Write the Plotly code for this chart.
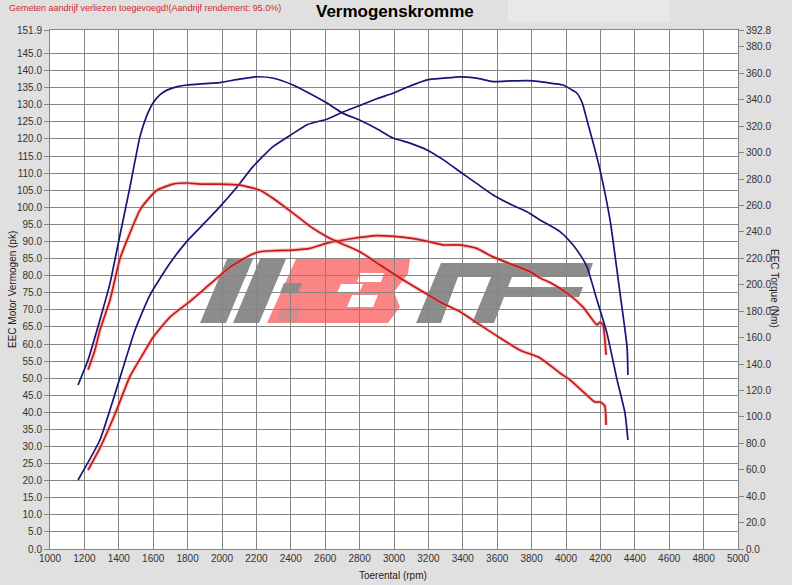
import plotly.graph_objects as go

# ---------------- data ----------------
rpm_power_blue = [1163, 1290, 1400, 1494, 1581, 1698, 1802, 1900, 1988, 2080, 2180, 2290, 2395, 2500,
                  2610, 2700, 2802, 2900, 2994, 3093, 3192, 3290, 3384, 3480, 3576, 3680, 3773, 3849,
                  3930, 3983, 4030, 4064, 4095, 4122, 4160, 4198, 4256, 4314, 4355, 4360]
power_blue = [20.2, 31.9, 49.0, 64.0, 74.3, 83.7, 90.4, 95.5, 100.2, 105.5, 111.9, 117.5, 121.0, 124.3,
              125.8, 127.8, 129.8, 131.8, 133.4, 135.5, 137.3, 137.8, 138.2, 137.8, 136.8, 137.0, 137.1, 136.8,
              136.2, 135.8, 134.5, 133.4, 130.5, 125.5, 118.5, 110.9, 96.3, 74.9, 59.1, 50.9]

rpm_torque_blue = [1163, 1221, 1290, 1349, 1395, 1465, 1523, 1560, 1599, 1640, 1680, 1740, 1796, 1900,
                   1988, 2100, 2203, 2300, 2413, 2510, 2610, 2704, 2802, 2900, 2994, 3093, 3192, 3290,
                   3384, 3480, 3576, 3680, 3773, 3849, 3965, 4041, 4090, 4122, 4180, 4238, 4297, 4343, 4360]
torque_blue = [124.1, 143.0, 173.3, 201.2, 230.1, 274.1, 312.1, 327.1, 337.5, 343.9, 347.3, 349.9, 351.2, 352.2,
               353.0, 355.6, 357.4, 356.3, 351.2, 344.7, 337.5, 329.7, 324.5, 318.1, 311.1, 307.2, 302.0, 294.3,
               285.5, 276.7, 267.9, 260.7, 255.2, 249.0, 240.2, 230.1, 221.1, 213.6, 188.5, 163.4, 128.0, 102.9, 82.5]

rpm_power_red = [1221, 1290, 1378, 1465, 1540, 1600, 1700, 1814, 1930, 2047, 2163, 2221, 2300, 2413,
                 2512, 2610, 2750, 2901, 3000, 3093, 3200, 3285, 3384, 3480, 3576, 3674, 3791, 3849,
                 3907, 4006, 4099, 4180, 4198, 4215, 4233]
power_red = [23.1, 29.5, 39.5, 50.5, 57.0, 62.0, 68.0, 72.5, 77.5, 82.5, 86.0, 87.0, 87.3, 87.5,
             88.0, 89.5, 90.8, 91.7, 91.5, 91.0, 90.0, 89.0, 89.0, 88.0, 85.5, 83.5, 81.2, 79.3,
             78.0, 74.9, 70.8, 65.6, 66.4, 65.6, 56.8]

rpm_torque_red = [1221, 1260, 1290, 1349, 1407, 1448, 1523, 1581, 1622, 1715, 1800, 1872, 1988, 2105,
                  2221, 2300, 2413, 2510, 2610, 2700, 2802, 2919, 3035, 3151, 3267, 3384, 3500, 3616,
                  3733, 3849, 3965, 4023, 4100, 4168, 4198, 4215, 4227, 4233]
torque_red = [135.5, 150.0, 165.5, 188.5, 219.8, 233.8, 256.5, 266.3, 271.5, 276.2, 277.0, 276.2, 276.2, 275.4,
              271.5, 265.1, 254.2, 244.4, 236.4, 230.9, 225.0, 214.9, 205.1, 196.0, 187.0, 179.5, 169.6, 159.8,
              150.5, 144.6, 133.2, 128.0, 119.0, 111.2, 111.2, 109.9, 107.6, 93.9]

x_ticks = list(range(1000, 5001, 200))
y_left_ticks = [i * 5.0 for i in range(30)] + [151.9]
y_right_ticks = [i * 20.0 for i in range(20)] + [392.8]

# ---------------- figure ----------------
W, H = 792, 585
L, R, T, B = 50, 54, 30, 36
pw, ph = W - L - R, H - T - B

BLUE = "#15157a"
RED = "#c41818"
HALO = "rgba(240,120,120,0.4)"

fig = go.Figure()

def add_line(x, y, color, axis, halo=False):
    if halo:
        fig.add_trace(go.Scatter(x=x, y=y, mode="lines", yaxis=axis, hoverinfo="skip",
                                 line=dict(color=HALO, width=4, shape="spline", smoothing=0.5)))
    fig.add_trace(go.Scatter(x=x, y=y, mode="lines", yaxis=axis,
                             line=dict(color=color, width=1.7, shape="spline", smoothing=0.5)))

add_line(rpm_power_red, power_red, RED, "y", halo=True)
add_line(rpm_torque_red, torque_red, RED, "y2", halo=True)
add_line(rpm_power_blue, power_blue, BLUE, "y")
add_line(rpm_torque_blue, torque_blue, BLUE, "y2")

# ---- watermark logo (decoration, in pixel -> paper coords) ----
def P(px, py):
    return ((px - L) / pw, (H - B - py) / ph)

def path(points):
    s = ""
    for i, (px, py) in enumerate(points):
        x, y = P(px, py)
        s += ("M" if i == 0 else "L") + f"{x:.4f},{y:.4f} "
    return s + "Z"

GRAY = "#8c8c8c"
PINK = "#fb8585"
logo = [
    ([(200, 323), (226, 323), (253, 259), (227, 259)], GRAY),
    ([(233, 323), (259, 323), (286, 259), (260, 259)], GRAY),
    ([(267, 323), (388, 323), (400, 307), (394, 292), (408, 274), (410, 259), (296, 259)], PINK),
    ([(357, 282), (381, 282), (384, 273), (360, 273)], "white"),
    ([(347, 307), (373, 307), (378, 295), (352, 295)], "white"),
    ([(337, 293), (359, 293), (363, 284), (341, 284)], "white"),
    ([(280, 293), (298, 293), (302, 283), (284, 283)], GRAY),
    ([(276, 322), (296, 322), (302, 307), (282, 307)], "#d98a8a"),
    ([(441, 263), (512, 263), (507, 277), (458, 277), (441, 323), (416, 323)], GRAY),
    ([(497, 263), (593, 263), (588, 277), (512, 277), (508, 287), (583, 287), (579, 297),
      (504, 297), (494, 323), (472, 323)], GRAY),
]
shapes = []
for pts, col in logo:
    shapes.append(dict(type="path", xref="paper", yref="paper", path=path(pts),
                       fillcolor=col, line=dict(width=0), layer="below"))

# light box at top right of header
shapes.append(dict(type="rect", xref="paper", yref="paper",
                   x0=(508 - L) / pw, x1=(670 - L) / pw, y0=(H - B - 22) / ph, y1=(H - B) / ph + 0.06,
                   fillcolor="#e9e7ea", line=dict(width=0), layer="below"))

FONT = "Liberation Sans, Arial, sans-serif"
tick_font = dict(family=FONT, size=10, color="#333333")

fig.update_layout(
    width=W, height=H,
    margin=dict(l=L, r=R, t=T, b=B, pad=0, autoexpand=False),
    paper_bgcolor="#e0e0e0",
    plot_bgcolor="white",
    showlegend=False,
    shapes=shapes,
    xaxis=dict(range=[1000, 5000], tickvals=x_ticks, ticktext=[str(v) for v in x_ticks],
               showgrid=True, gridcolor="#858585", gridwidth=1, zeroline=False,
               ticks="", tickfont=tick_font, showline=True, linecolor="#858585", mirror=True,
               fixedrange=True),
    yaxis=dict(range=[0, 151.9], tickvals=y_left_ticks, ticktext=[f"{v:.1f}" for v in y_left_ticks],
               showgrid=True, gridcolor="#858585", gridwidth=1, zeroline=False,
               ticks="outside", ticklen=5, tickcolor="#858585", tickfont=tick_font,
               showline=True, linecolor="#858585"),
    yaxis2=dict(range=[0, 392.8], overlaying="y", side="right",
                tickvals=y_right_ticks, ticktext=[f"{v:.1f}" for v in y_right_ticks],
                showgrid=False, zeroline=False, ticks="outside", ticklen=5, tickcolor="#858585",
                tickfont=tick_font, showline=True, linecolor="#858585"),
    annotations=[
        dict(text="<b>Vermogenskromme</b>", xref="paper", yref="paper", x=(395 - L) / pw,
             y=(H - B - 12) / ph, xanchor="center", yanchor="middle", showarrow=False,
             font=dict(family=FONT, size=17, color="black")),
        dict(text="Gemeten aandrijf verliezen toegevoegd!(Aandrijf rendement: 95.0%)",
             xref="paper", yref="paper", x=(7 - L) / pw, y=(H - B - 8) / ph,
             xanchor="left", yanchor="middle", showarrow=False,
             font=dict(family=FONT, size=9, color="#d02828")),
        dict(text="Toerental (rpm)", xref="paper", yref="paper", x=(393 - L) / pw,
             y=(H - B - 575) / ph, xanchor="center", yanchor="middle", showarrow=False,
             font=dict(family=FONT, size=10, color="#222222")),
        dict(text="EEC Motor Vermogen (pk)", xref="paper", yref="paper", x=(12 - L) / pw,
             y=(H - B - 290) / ph, xanchor="center", yanchor="middle", showarrow=False,
             textangle=-90, font=dict(family=FONT, size=10, color="#222222")),
        dict(text="EEC Torque (Nm)", xref="paper", yref="paper", x=(775 - L) / pw,
             y=(H - B - 288) / ph, xanchor="center", yanchor="middle", showarrow=False,
             textangle=90, font=dict(family=FONT, size=10, color="#222222")),
    ],
)

fig.write_html("out.html", config={"displayModeBar": False},
               post_script="document.body.style.margin='0';")
